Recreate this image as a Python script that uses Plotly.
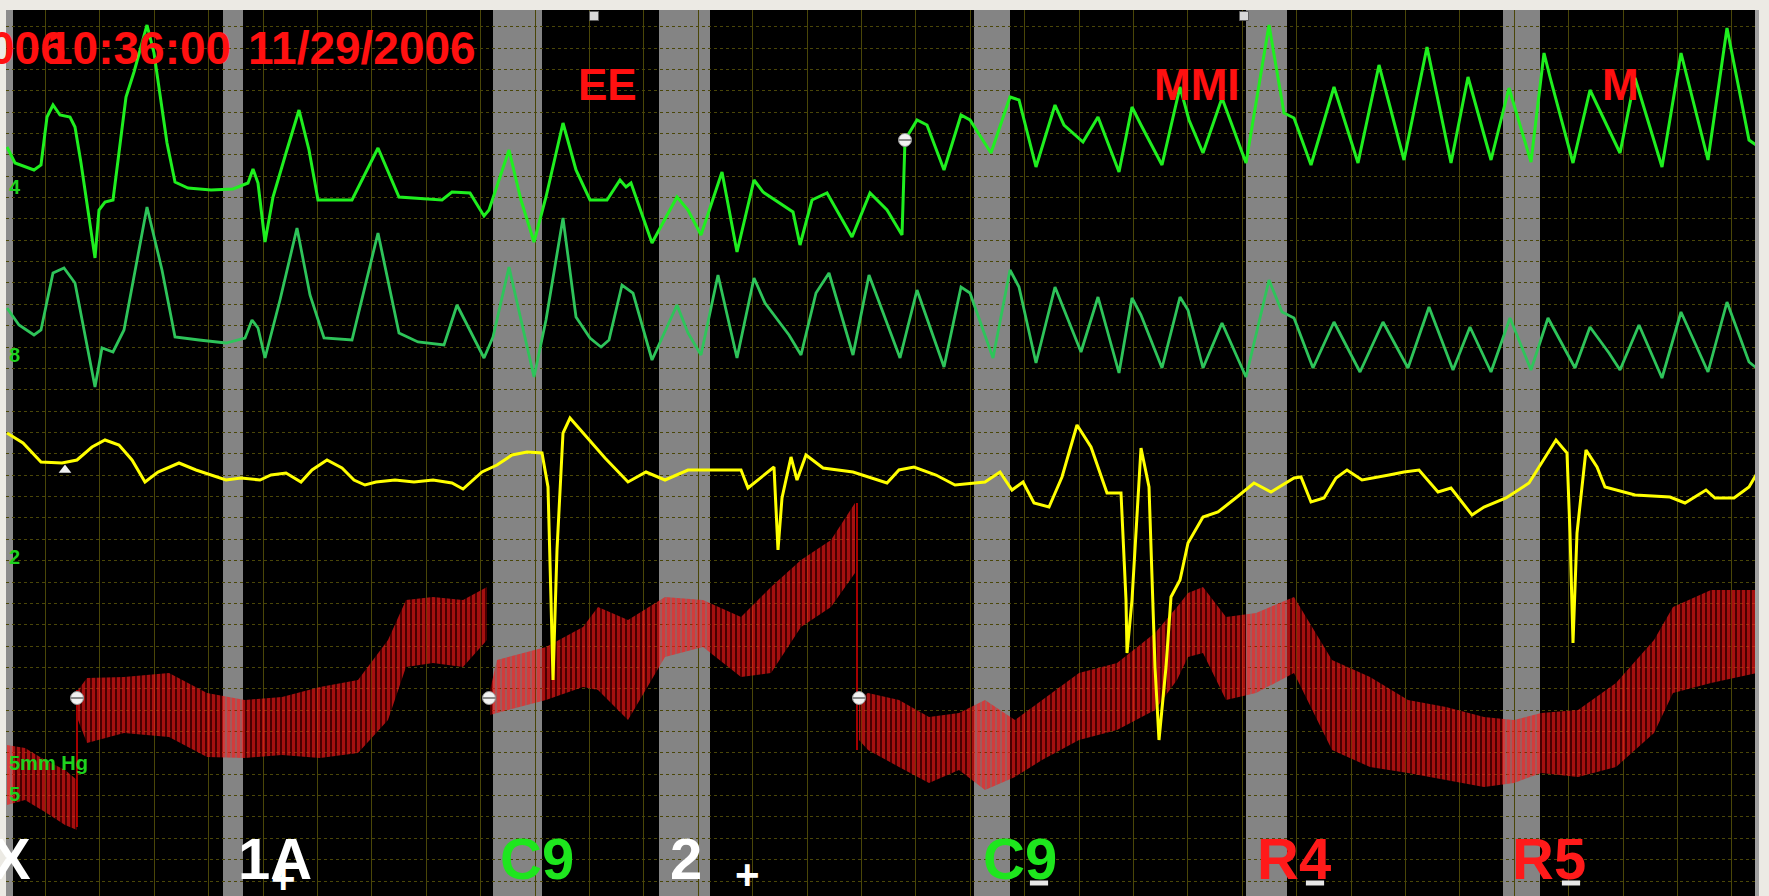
import plotly.graph_objects as go

# ---------------- data (time in screen samples, amplitude in screen rows) ----------------
g1_t = [7, 15, 34, 41, 47, 53, 60, 70, 75, 81, 95, 99, 105, 113, 126, 134, 147, 154, 167, 175, 188, 211, 233,
        248, 253, 258, 265, 273, 286, 299, 309, 318, 352, 378, 399, 442, 452, 470, 484, 489, 509, 521, 534, 546,
        563, 576, 590, 607, 620, 626, 631, 652, 677, 688, 701, 722, 737, 754, 763, 793, 800, 812, 827, 852, 870,
        887, 902, 905, 917, 927, 944, 961, 970, 991, 1010, 1019, 1036, 1055, 1064, 1083, 1098, 1119, 1132, 1141,
        1162, 1180, 1189, 1203, 1222, 1246, 1269, 1284, 1294, 1311, 1334, 1358, 1379, 1404, 1427, 1451, 1468,
        1491, 1509, 1531, 1544, 1550, 1573, 1590, 1620, 1635, 1662, 1681, 1708, 1727, 1749, 1759]
g1_v = [147, 163, 170, 165, 117, 105, 115, 117, 127, 163, 258, 210, 202, 200, 97, 72, 25, 53, 143, 182, 188, 190,
        189, 183, 169, 183, 242, 197, 153, 110, 150, 200, 200, 148, 197, 200, 192, 193, 216, 210, 150, 200, 242,
        197, 123, 170, 200, 200, 180, 187, 183, 243, 197, 210, 235, 172, 252, 180, 192, 212, 245, 200, 193, 237,
        193, 210, 235, 140, 120, 125, 170, 115, 120, 153, 97, 100, 167, 105, 125, 142, 117, 172, 107, 125, 165,
        87, 120, 153, 98, 163, 25, 113, 118, 165, 87, 163, 65, 160, 47, 163, 77, 160, 88, 162, 53, 77, 163, 90,
        153, 78, 167, 53, 160, 28, 140, 147]

g2_t = [7, 19, 34, 41, 53, 64, 75, 95, 102, 113, 124, 147, 162, 175, 199, 226, 245, 252, 258, 265, 280, 297, 310,
        324, 352, 378, 399, 418, 444, 457, 484, 493, 509, 521, 534, 546, 563, 576, 590, 601, 609, 622, 633, 652,
        677, 688, 701, 718, 737, 754, 765, 789, 801, 816, 829, 853, 869, 900, 917, 944, 961, 970, 993, 1010, 1019,
        1036, 1055, 1081, 1098, 1119, 1132, 1141, 1162, 1180, 1188, 1203, 1222, 1246, 1269, 1282, 1294, 1313,
        1334, 1360, 1383, 1408, 1429, 1453, 1470, 1491, 1510, 1531, 1548, 1575, 1590, 1609, 1620, 1639, 1662,
        1681, 1708, 1727, 1749, 1759]
g2_v = [308, 325, 335, 330, 273, 268, 283, 387, 348, 352, 330, 207, 270, 337, 340, 343, 338, 320, 328, 358, 300,
        228, 295, 338, 340, 233, 333, 342, 345, 305, 358, 337, 267, 320, 377, 320, 218, 317, 338, 347, 340, 285,
        293, 360, 305, 333, 355, 275, 358, 278, 303, 335, 355, 293, 273, 355, 275, 358, 290, 367, 287, 293, 358,
        270, 287, 363, 287, 352, 297, 373, 298, 315, 368, 297, 310, 368, 323, 377, 280, 312, 318, 368, 322, 372,
        322, 368, 307, 370, 327, 372, 318, 370, 318, 368, 327, 353, 370, 325, 378, 312, 372, 302, 362, 370]

y_t = [7, 23, 41, 62, 77, 92, 105, 119, 132, 145, 158, 167, 179, 196, 211, 226, 241, 260, 271, 286, 301, 312, 327,
       342, 354, 365, 376, 395, 414, 433, 452, 463, 482, 497, 512, 527, 542, 548, 551, 553, 557, 563, 570, 583,
       590, 605, 628, 646, 665, 688, 714, 741, 748, 774, 778, 782, 791, 797, 806, 823, 853, 869, 887, 899, 914,
       936, 955, 985, 1000, 1012, 1023, 1034, 1049, 1062, 1077, 1091, 1107, 1121, 1126, 1127, 1132, 1141, 1149,
       1155, 1159, 1166, 1171, 1180, 1188, 1203, 1218, 1237, 1254, 1271, 1294, 1301, 1311, 1324, 1336, 1347,
       1362, 1389, 1404, 1419, 1438, 1451, 1472, 1484, 1506, 1529, 1556, 1567, 1570, 1573, 1577, 1586, 1597,
       1605, 1635, 1670, 1685, 1706, 1715, 1734, 1749, 1759]
y_v = [433, 443, 462, 463, 460, 447, 440, 445, 460, 482, 472, 468, 463, 470, 475, 480, 478, 480, 475, 473, 482,
       470, 460, 468, 480, 485, 482, 480, 482, 480, 483, 489, 472, 465, 455, 452, 453, 487, 600, 680, 550, 433,
       418, 433, 440, 458, 482, 472, 480, 470, 470, 470, 488, 467, 550, 498, 457, 480, 455, 468, 472, 477, 483,
       470, 467, 475, 485, 482, 472, 490, 482, 503, 507, 477, 425, 447, 493, 493, 600, 653, 600, 448, 487, 667,
       740, 667, 597, 580, 543, 517, 512, 497, 483, 492, 478, 477, 502, 498, 478, 470, 480, 475, 472, 470, 492,
       488, 515, 507, 498, 483, 440, 453, 533, 643, 533, 450, 467, 487, 495, 497, 503, 490, 498, 498, 487, 470]

# pressure channel: upper / lower envelope of the pulsatile trace, one block per recording segment
red_a_t = [7, 25, 45, 65, 77]
red_a_top = [745, 748, 760, 770, 780]
red_a_bot = [805, 800, 812, 825, 830]

red_b_t = [78, 87, 124, 169, 207, 245, 282, 320, 358, 388, 406, 433, 463, 487]
red_b_top = [690, 678, 677, 673, 693, 700, 697, 687, 680, 640, 600, 597, 600, 587]
red_b_bot = [720, 743, 733, 737, 757, 758, 755, 758, 753, 720, 667, 663, 667, 640]

red_c_t = [490, 497, 546, 583, 598, 628, 665, 703, 741, 771, 801, 831, 855]
red_c_top = [690, 660, 647, 627, 607, 620, 597, 600, 617, 587, 560, 540, 503]
red_c_bot = [715, 713, 700, 687, 690, 720, 657, 647, 677, 673, 627, 607, 573]

red_d_t = [859, 868, 899, 929, 959, 985, 1015, 1042, 1079, 1117, 1155, 1177, 1188, 1203, 1226, 1256, 1294, 1332,
           1370, 1408, 1446, 1484, 1514, 1541, 1578, 1616, 1654, 1673, 1711, 1757]
red_d_top = [698, 693, 700, 717, 713, 700, 720, 700, 673, 663, 633, 607, 593, 587, 617, 613, 597, 660, 677, 700,
             707, 717, 720, 713, 710, 683, 640, 607, 590, 590]
red_d_bot = [740, 750, 767, 783, 770, 790, 777, 760, 740, 730, 710, 680, 657, 653, 700, 693, 673, 750, 767, 773,
             780, 787, 783, 773, 777, 767, 733, 693, 683, 673]

red_jump_t = [[77, 77], [857, 857]]
red_jump_v = [[827, 690], [503, 750]]

# event bands (stimulus markers)
band_start = [223, 493, 659, 974, 1246, 1503]
band_end = [243, 542, 710, 1010, 1287, 1540]

# event labels along the bottom
ev_text = ["X", "1A", "C9", "2", "C9", "R4", "R5"]
ev_t = [33, 236, 498, 668, 981, 1255, 1510]
ev_anchor = ["right", "left", "left", "left", "left", "left", "left"]
ev_color = ["#ffffff", "#ffffff", "#1ee61e", "#ffffff", "#1ee61e", "#ff1a1a", "#ff1a1a"]

plus_t = [283, 747]
plus_v = [878, 874]
tick_t = [1039, 1315, 1571]

# annotations near the top
note_text = ["EE", "MMI", "M"]
note_t = [576, 1152, 1600]

# header text pieces (overlapping as in the recorder display)
head_text = ["006", "10:36:00", "11/29/2006"]
head_t = [68, 233, 246]
head_anchor = ["right", "right", "left"]

# markers
red_mark_t = [77, 489, 859]
red_mark_v = [698, 698, 698]
g_mark_t = [905]
g_mark_v = [140]
tri_t = [65]
tri_v = [470]
top_sq_t = [594, 1244]

ch_label = ["4", "8", "2", "5mm Hg", "5"]
ch_label_v = [187, 355, 557, 763, 794]

# ---------------- figure ----------------
fig = go.Figure()

for x0, x1 in zip(band_start, band_end):
    fig.add_vrect(x0=x0, x1=x1, fillcolor="#848484", line_width=0, layer="below", opacity=1)
fig.add_vrect(x0=6, x1=13, fillcolor="#8c8c8c", line_width=0, layer="below", opacity=1)

PAT = dict(shape="|", fgcolor="#ff2020", bgcolor="rgba(225,0,0,0.33)", size=5, solidity=0.6)
for ts, tp, bt in [(red_a_t, red_a_top, red_a_bot), (red_b_t, red_b_top, red_b_bot),
                   (red_c_t, red_c_top, red_c_bot), (red_d_t, red_d_top, red_d_bot)]:
    fig.add_trace(go.Scatter(x=ts + ts[::-1], y=tp + bt[::-1], fill="toself", mode="lines",
                             line=dict(width=0, color="#ff0000"), fillpattern=PAT,
                             fillcolor="rgba(225,0,0,0.33)", hoverinfo="skip", showlegend=False))
for jt, jv in zip(red_jump_t, red_jump_v):
    fig.add_trace(go.Scatter(x=jt, y=jv, mode="lines", line=dict(color="#dd0000", width=1.5),
                             showlegend=False, hoverinfo="skip"))

fig.add_trace(go.Scatter(x=g2_t, y=g2_v, mode="lines", line=dict(color="#2ec45a", width=2.8),
                         showlegend=False))
fig.add_trace(go.Scatter(x=g1_t, y=g1_v, mode="lines", line=dict(color="#1fef1f", width=3),
                         showlegend=False))
fig.add_trace(go.Scatter(x=y_t, y=y_v, mode="lines", line=dict(color="#ffff00", width=3),
                         showlegend=False))

# white markers
fig.add_trace(go.Scatter(x=red_mark_t + g_mark_t, y=red_mark_v + g_mark_v, mode="markers",
                         marker=dict(symbol="circle", size=13, color="#f2f2f2",
                                     line=dict(color="#9a9a9a", width=1)), showlegend=False))
fig.add_trace(go.Scatter(x=red_mark_t + g_mark_t, y=red_mark_v + g_mark_v, mode="markers",
                         marker=dict(symbol="line-ew", size=10, line=dict(color="#8a8a8a", width=2)),
                         showlegend=False))
fig.add_trace(go.Scatter(x=tri_t, y=tri_v, mode="markers",
                         marker=dict(symbol="triangle-up", size=11, color="#f0f0f0"), showlegend=False))
fig.add_trace(go.Scatter(x=top_sq_t, y=[16] * len(top_sq_t), mode="markers",
                         marker=dict(symbol="square", size=9, color="#d8d8d8",
                                     line=dict(color="#606060", width=1)), showlegend=False))
fig.add_trace(go.Scatter(x=tick_t, y=[883] * len(tick_t), mode="markers",
                         marker=dict(symbol="line-ew", size=13, line=dict(color="#e8e8e8", width=5)),
                         showlegend=False))

FONT = "Liberation Sans, Arial, sans-serif"
for txt, t, anc, col in zip(ev_text, ev_t, ev_anchor, ev_color):
    fig.add_annotation(x=t, y=858, text="<b>%s</b>" % txt, showarrow=False, xanchor=anc, yanchor="middle",
                       font=dict(family=FONT, size=58, color=col))
for t, v in zip(plus_t, plus_v):
    fig.add_annotation(x=t, y=v, text="<b>+</b>", showarrow=False, xanchor="center", yanchor="middle",
                       font=dict(family=FONT, size=42, color="#ffffff"))
for txt, t in zip(note_text, note_t):
    fig.add_annotation(x=t, y=84, text="<b>%s</b>" % txt, showarrow=False, xanchor="left", yanchor="middle",
                       font=dict(family=FONT, size=44, color="#ff1010"))
for txt, t, anc in zip(head_text, head_t, head_anchor):
    fig.add_annotation(x=t, y=48, text="<b>%s</b>" % txt, showarrow=False, xanchor=anc, yanchor="middle",
                       font=dict(family=FONT, size=46, color="#ff1010"))
for txt, v in zip(ch_label, ch_label_v):
    fig.add_annotation(x=7, y=v, text="<b>%s</b>" % txt, showarrow=False, xanchor="left", yanchor="middle",
                       font=dict(family=FONT, size=20, color="#1ed21e"))

fig.update_layout(
    width=1769, height=896,
    margin=dict(l=6, r=10, t=10, b=0),
    paper_bgcolor="#eceae4",
    plot_bgcolor="#000000",
    showlegend=False,
    xaxis=dict(range=[6, 1759], showgrid=True, gridcolor="#4a4608", gridwidth=1, tickmode="linear",
               tick0=45.5, dtick=54.4, showticklabels=False, zeroline=False, ticks="", fixedrange=True),
    yaxis=dict(range=[896, 10], showgrid=True, gridcolor="#4a4608", gridwidth=1, griddash="dot",
               tickmode="linear", tick0=48, dtick=21.36, showticklabels=False, zeroline=False, ticks="",
               fixedrange=True),
)
fig.add_vrect(x0=1755, x1=1759, fillcolor="#a0a0a0", line_width=0, layer="above", opacity=1)

fig.write_html("out.html", config={"displayModeBar": False},
               post_script="document.body.style.margin='0';document.body.style.overflow='hidden';")
